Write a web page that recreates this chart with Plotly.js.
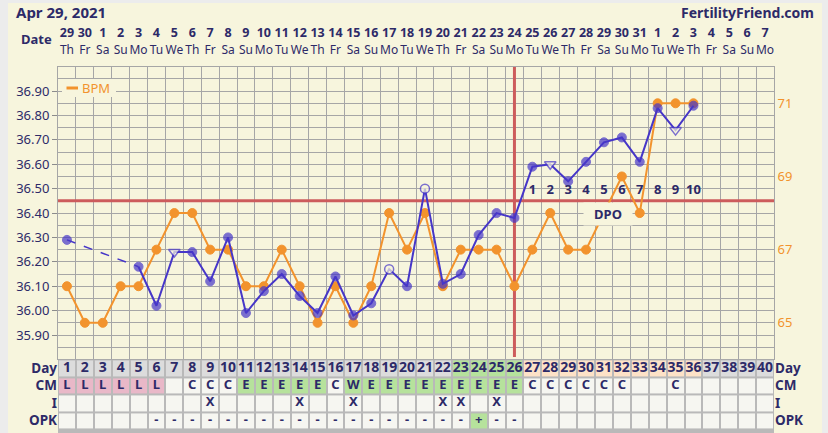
<!DOCTYPE html>
<html><head><meta charset="utf-8">
<script src="https://cdn.plot.ly/plotly-3.0.1.min.js"></script>
<style>html,body{margin:0;padding:0;background:#f7f5dd;overflow:hidden}</style>
</head><body>
<div id="chart" style="width:828px;height:433px"></div>
<script>
// ---------------- DATA ----------------
const days = [1,2,3,4,5,6,7,8,9,10,11,12,13,14,15,16,17,18,19,20,21,22,23,24,25,26,27,28,29,30,31,32,33,34,35,36,37,38,39,40];
const dateNums = [29,30,1,2,3,4,5,6,7,8,9,10,11,12,13,14,15,16,17,18,19,20,21,22,23,24,25,26,27,28,29,30,31,1,2,3,4,5,6,7];
const weekdays = ['Th','Fr','Sa','Su','Mo','Tu','We','Th','Fr','Sa','Su','Mo','Tu','We','Th','Fr','Sa','Su','Mo','Tu','We','Th','Fr','Sa','Su','Mo','Tu','We','Th','Fr','Sa','Su','Mo','Tu','We','Th','Fr','Sa','Su','Mo'];
const temps = [36.29,null,null,null,36.18,36.02,36.24,36.24,36.12,36.30,35.99,36.08,36.15,36.06,35.99,36.14,35.98,36.03,36.17,36.10,36.50,36.11,36.15,36.31,36.40,36.38,36.59,36.60,36.53,36.61,36.69,36.71,36.61,36.83,36.74,36.84];
const tempFlags = ['','','','','','','tri','','','','','','','','','','','','open','','open','','','','','','','tri','','','','','','','tri',''];
const bpm = [66,65,65,66,66,67,68,68,67,67,66,66,67,66,65,66,65,66,68,67,68,66,67,67,67,66,67,68,67,67,68,69,68,71,71,71];
const coverline = 36.45;
const ovulationDay = 26;
const dpoNums = [1,2,3,4,5,6,7,8,9,10];
const fertileDays = [23,24,25,26];
const cm = ['L','L','L','L','L','L','','C','C','C','E','E','E','E','E','C','W','E','E','E','E','E','E','E','E','E','C','C','C','C','C','C','','','C','','','','',''];
const intercourse = ['','','','','','','','','X','','','','','X','','','X','','','','','X','X','','X','','','','','','','','','','','','','','',''];
const opk = ['','','','','','-','-','-','-','-','-','-','-','-','-','-','-','-','-','-','-','-','-','+','-','-','','','','','','','','','','','','','',''];
const rowLabels = ['Day','CM','I','OPK'];
const tempTicks = [35.9,36.0,36.1,36.2,36.3,36.4,36.5,36.6,36.7,36.8,36.9];
const bpmTicks = [65,67,69,71];

// ---------------- STYLE ----------------
const CREAM = '#f7f5dd', NAVY = '#2d2a68', BLUE = '#4636c8', ORANGE = '#f2932d', RED = '#cd5c5c';
const GRID = '#a6a6a6';
const FONT = 'Noto Sans';
const W = 828, H = 433, ML = 58, MR = 54;
const PW = W - ML - MR;
const px = x => (x - ML) / PW;
const py = y => (H - y) / H;
const TEMP_RANGE = [35.8, 37.0];

const tDays = days.slice(0, temps.length);
const bDays = days.slice(0, bpm.length);

// dashed bridges across missing temperatures
const bridgeX = [], bridgeY = [];
for (let i = 0; i < temps.length; i++) {
  if (temps[i] === null) continue;
  let j = i + 1;
  if (j < temps.length && temps[j] === null) {
    while (j < temps.length && temps[j] === null) j++;
    if (j < temps.length) { bridgeX.push(tDays[i], tDays[j], null); bridgeY.push(temps[i], temps[j], null); }
  }
}
const symbols = tempFlags.map(f => f === 'tri' ? 'triangle-down' : 'circle');
const mColors = tempFlags.map(f => f ? CREAM : BLUE);
const mSizes = tempFlags.map(f => f === 'tri' ? 10 : 9);
const mLineW = tempFlags.map(f => f ? 1.5 : 1);

// table colour codes: 0 light, 1 gray, 2 green, 3 peach, 4 pink
const dayRow = days.map(d => fertileDays.includes(d) ? 2 : (d > ovulationDay && d <= ovulationDay + dpoNums.length ? 3 : 1));
const cmRow = cm.map(c => c === 'L' ? 4 : (c === 'E' || c === 'W') ? 2 : 0);
const iRow = intercourse.map(() => 0);
const opkRow = opk.map(o => o === '+' ? 2 : 0);

const traces = [
  { x: bDays, y: bpm, yaxis: 'y2', xaxis: 'x', mode: 'lines+markers', name: 'BPM',
    line: { color: ORANGE, width: 2 }, marker: { color: ORANGE, size: 9, line: { color: ORANGE, width: 1 } }, hoverinfo: 'skip', showlegend: false },
  { x: bridgeX, y: bridgeY, yaxis: 'y6', xaxis: 'x', mode: 'lines',
    line: { color: BLUE, width: 1.5, dash: 'dash' }, hoverinfo: 'skip', showlegend: false },
  { x: tDays, y: temps, yaxis: 'y6', xaxis: 'x', mode: 'lines+markers', connectgaps: false,
    line: { color: BLUE, width: 2 },
    marker: { symbol: symbols, color: mColors, size: mSizes, line: { color: BLUE, width: mLineW } },
    hoverinfo: 'skip', showlegend: false },
  { x: dpoNums.map(n => ovulationDay + n), y: dpoNums.map(() => 36.49), yaxis: 'y6', xaxis: 'x',
    mode: 'text', text: dpoNums.map(n => '<b>' + n + '</b>'),
    textfont: { family: FONT, size: 13, color: NAVY }, hoverinfo: 'skip', showlegend: false, cliponaxis: false },
  { type: 'heatmap', x: days, y: [0,1,2,3], z: [dayRow, cmRow, iRow, opkRow], xaxis: 'x3', yaxis: 'y4',
    zmin: -0.5, zmax: 4.5, showscale: false, xgap: 2, ygap: 2, hoverinfo: 'skip',
    colorscale: [[0,'#f6f6f1'],[0.2,'#f6f6f1'],[0.2,'#dcdcdc'],[0.4,'#dcdcdc'],[0.4,'#b6e29c'],[0.6,'#b6e29c'],
                 [0.6,'#fde2c7'],[0.8,'#fde2c7'],[0.8,'#e9b8c8'],[1,'#e9b8c8']] },
];
const tableRows = [days.map(String), cm, intercourse, opk];
tableRows.forEach((row, r) => {
  traces.push({ x: days, y: days.map(() => r), text: row.map(t => t ? '<b>' + t + '</b>' : ''),
    xaxis: 'x3', yaxis: 'y5', mode: 'text', cliponaxis: false, hoverinfo: 'skip', showlegend: false,
    textfont: { family: FONT, size: r === 0 ? 14 : 13, color: NAVY } });
});
traces.push({ x: days, y: days.map(() => 33.5), text: dateNums.map(n => '<b>' + n + '</b>'),
  xaxis: 'x2', yaxis: 'y3', mode: 'text', cliponaxis: false, hoverinfo: 'skip', showlegend: false,
  textfont: { family: FONT, size: 12.5, color: NAVY } });
traces.push({ x: days, y: days.map(() => 51), text: weekdays,
  xaxis: 'x2', yaxis: 'y3', mode: 'text', cliponaxis: false, hoverinfo: 'skip', showlegend: false,
  textfont: { family: FONT, size: 12, color: NAVY } });

const mainDom = [py(359.4), py(66.7)];
const tableDom = [0, py(359.4)];
const tableRange = [3.706, -0.5];

const layout = {
  width: W, height: H, margin: { l: ML, r: MR, t: 0, b: 0 },
  paper_bgcolor: CREAM, plot_bgcolor: CREAM, showlegend: false,
  font: { family: FONT, color: NAVY },
  xaxis: { domain: [0,1], range: [0.5, 40.5], anchor: 'y', tickmode: 'linear', tick0: 0.5, dtick: 1,
    showticklabels: false, ticks: '', showgrid: true, gridcolor: GRID, gridwidth: 1, zeroline: false,
    showline: true, mirror: true, linecolor: GRID, linewidth: 1 },
  yaxis: { domain: mainDom, anchor: 'x', side: 'left', range: TEMP_RANGE, tickmode: 'array', tickvals: tempTicks,
    ticktext: tempTicks.map(v => v.toFixed(2)), ticks: 'outside', ticklen: 5, tickcolor: '#8c8c8c',
    tickfont: { family: FONT, size: 13, color: NAVY }, showgrid: true, gridcolor: GRID, gridwidth: 1,
    minor: { tickmode: 'linear', tick0: 35.8, dtick: 0.05, showgrid: true, gridcolor: GRID, gridwidth: 1, ticks: '' },
    zeroline: false, showline: true, linecolor: GRID },
  yaxis2: { overlaying: 'y', anchor: 'x', side: 'right', range: [64, 72], tickmode: 'array', tickvals: bpmTicks,
    tickfont: { family: FONT, size: 13, color: ORANGE }, ticks: '', showgrid: false, zeroline: false,
    showline: true, linecolor: GRID },
  yaxis6: { overlaying: 'y', anchor: 'x', range: TEMP_RANGE, visible: false },
  xaxis2: { domain: [0,1], range: [0.5, 40.5], anchor: 'y3', visible: false },
  yaxis3: { domain: [py(60), 1], range: [60, 0], anchor: 'x2', visible: false },
  xaxis3: { domain: [0,1], range: [0.5, 40.5], anchor: 'y4', visible: false },
  yaxis4: { domain: tableDom, range: tableRange, anchor: 'x3', tickmode: 'array', tickvals: [0,1,2,3], ticktext: rowLabels,
    ticks: '', tickfont: { family: FONT, size: 13.5, color: NAVY, weight: 'bold' }, showgrid: false, zeroline: false, showline: false },
  yaxis5: { overlaying: 'y4', anchor: 'x3', side: 'right', range: tableRange, tickmode: 'array', tickvals: [0,1,2,3], ticktext: rowLabels,
    ticks: '', tickfont: { family: FONT, size: 13.5, color: NAVY, weight: 'bold' }, showgrid: false, zeroline: false, showline: false },
  shapes: [
    { type: 'rect', xref: 'paper', yref: 'paper', x0: px(0), x1: px(8), y0: 0, y1: 1, fillcolor: '#ececec', line: { width: 0 }, layer: 'below' },
    { type: 'rect', xref: 'paper', yref: 'paper', x0: px(0), x1: px(828), y0: py(3), y1: 1, fillcolor: '#ececec', line: { width: 0 }, layer: 'below' },
    { type: 'rect', xref: 'paper', yref: 'paper', x0: px(822), x1: px(828), y0: 0, y1: 1, fillcolor: '#ececec', line: { width: 0 }, layer: 'below' },
    { type: 'rect', xref: 'x3', yref: 'y4', x0: 0.5, x1: 40.5, y0: tableRange[0], y1: tableRange[1], fillcolor: '#b9b9b9', line: { width: 0 }, layer: 'below' },
    { type: 'line', xref: 'x', yref: 'y', x0: 0.5, x1: 40.5, y0: coverline, y1: coverline, line: { color: RED, width: 3 }, layer: 'between' },
    { type: 'line', xref: 'x', yref: 'y', x0: ovulationDay, x1: ovulationDay, y0: 35.81, y1: 37.0, line: { color: RED, width: 3 }, layer: 'between' },
    { type: 'rect', xref: 'paper', yref: 'paper', x0: px(62), x1: px(116), y0: py(97), y1: py(79), fillcolor: CREAM, line: { width: 0 }, layer: 'above' },
    { type: 'line', xref: 'paper', yref: 'paper', x0: px(66.5), x1: px(78), y0: py(88), y1: py(88), line: { color: ORANGE, width: 3 }, layer: 'above' },
  ],
  annotations: [
    { xref: 'paper', yref: 'paper', x: px(14), y: py(12.5), xanchor: 'left', yanchor: 'middle', showarrow: false,
      text: '<b>Apr 29, 2021</b>', font: { family: FONT, size: 15, color: NAVY } },
    { xref: 'paper', yref: 'paper', x: px(816), y: py(12.5), xanchor: 'right', yanchor: 'middle', showarrow: false,
      text: '<b>FertilityFriend.com</b>', font: { family: FONT, size: 14, color: NAVY } },
    { xref: 'paper', yref: 'paper', x: px(54), y: py(38.5), xanchor: 'right', yanchor: 'middle', showarrow: false,
      text: '<b>Date</b>', font: { family: FONT, size: 13, color: NAVY } },
    { xref: 'paper', yref: 'paper', x: px(80), y: py(88), xanchor: 'left', yanchor: 'middle', showarrow: false,
      text: 'BPM', font: { family: FONT, size: 13, color: ORANGE } },
    { xref: 'x', yref: 'y', x: 31.2, y: 36.395, showarrow: false, text: '<b>DPO</b>', bgcolor: CREAM,
      width: 46, height: 20, font: { family: FONT, size: 13, color: NAVY } },
  ],
};
Plotly.newPlot('chart', traces, layout, { displayModeBar: false, staticPlot: true });
</script>
</body></html>
